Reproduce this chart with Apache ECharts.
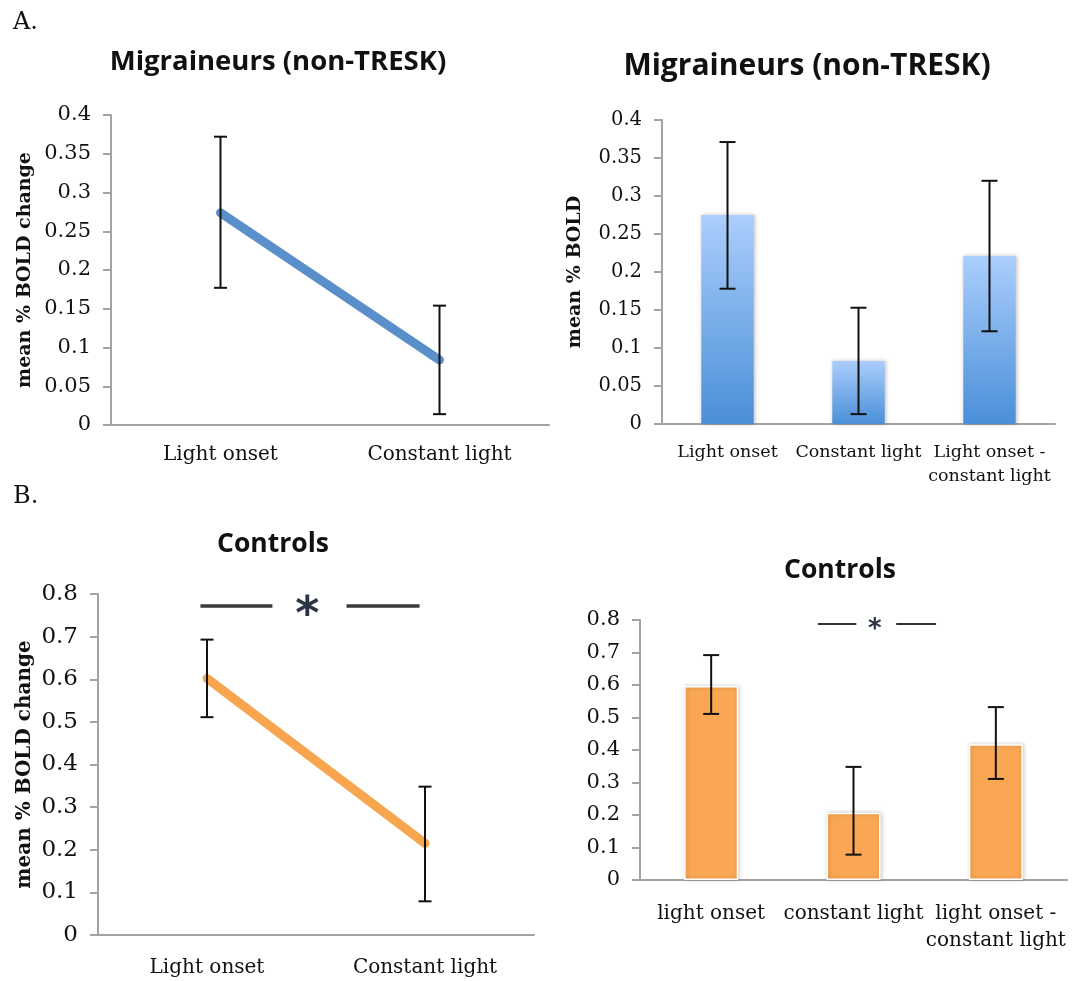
<!DOCTYPE html>
<html>
<head>
<meta charset="utf-8">
<title>mean % BOLD change</title>
<script src="https://cdn.jsdelivr.net/npm/echarts@6/dist/echarts.min.js"></script>
<style>
  html, body { margin: 0; padding: 0; background: #fff; }
  #chart { width: 1076px; height: 981px; }
</style>
</head>
<body>
<div id="chart"></div>
<script>
// A. migraineurs (non-TRESK)
const lineCatsA = ['Light onset', 'Constant light'];
const lineMeanA = [0.274, 0.084];
const lineLowA = [0.177, 0.014];
const lineHighA = [0.372, 0.154];

const barCatsA = ['Light onset', 'Constant light', 'Light onset -\nconstant light'];
const barMeanA = [0.275, 0.083, 0.221];
const barLowA = [0.178, 0.013, 0.122];
const barHighA = [0.371, 0.153, 0.320];

// B. controls
const lineCatsB = ['Light onset', 'Constant light'];
const lineMeanB = [0.602, 0.215];
const lineLowB = [0.511, 0.079];
const lineHighB = [0.693, 0.348];

const barCatsB = ['light onset', 'constant light', 'light onset -\nconstant light'];
const barMeanB = [0.597, 0.207, 0.418];
const barLowB = [0.511, 0.078, 0.311];
const barHighB = [0.692, 0.348, 0.532];

// significance markers: [category, value]
const sigLineB = [0, 0.772];
const sigBarB = [1, 0.788];

const SERIF = '"DejaVu Serif", serif';
const SANS = '"Open Sans", "Noto Sans", sans-serif';
const AXIS_GREY = '#a3a3a3';

const myChart = echarts.init(document.getElementById('chart'));

function errData(low, high) {
  return low.map((l, i) => [i, l, high[i]]);
}

// error bar drawn through the axis scales
function errorBar(cap) {
  return function (params, api) {
    const x = api.value(0);
    const lo = api.coord([x, api.value(1)]);
    const hi = api.coord([x, api.value(2)]);
    const st = { stroke: '#111', lineWidth: 2 };
    return {
      type: 'group',
      children: [
        { type: 'line', shape: { x1: lo[0], y1: lo[1], x2: hi[0], y2: hi[1] }, style: st },
        { type: 'line', shape: { x1: hi[0] - cap / 2, y1: hi[1], x2: hi[0] + cap / 2, y2: hi[1] }, style: st },
        { type: 'line', shape: { x1: lo[0] - cap / 2, y1: lo[1], x2: lo[0] + cap / 2, y2: lo[1] }, style: st }
      ]
    };
  };
}

// "—— * ——" bracket, offsets in category widths
function sigMark(segs, star, width, color, fontSize) {
  return function (params, api) {
    const c = api.coord([api.value(0), api.value(1)]);
    const w = api.size([1, 0])[0];
    const st = { stroke: color, lineWidth: width };
    const kids = segs.map(s => ({
      type: 'line',
      shape: { x1: c[0] + s[0] * w, y1: c[1], x2: c[0] + s[1] * w, y2: c[1] },
      style: st
    }));
    kids.push({
      type: 'text',
      style: {
        text: '*', x: c[0] + star * w, y: c[1] + fontSize * 0.24,
        fill: '#2b3442', font: 'bold ' + fontSize + 'px "DejaVu Sans", sans-serif',
        align: 'center', verticalAlign: 'middle'
      }
    });
    return { type: 'group', children: kids };
  };
}

function xAxisOf(gridIndex, data, fontSize, margin, lineHeight) {
  return {
    type: 'category', gridIndex: gridIndex, data: data,
    axisLine: { lineStyle: { color: AXIS_GREY, width: 2 } },
    axisTick: { length: 8, lineStyle: { color: AXIS_GREY, width: 2 } },
    axisLabel: { color: '#111', fontFamily: SERIF, fontSize: fontSize, margin: margin, lineHeight: lineHeight, interval: 0 },
    splitLine: { show: false }
  };
}

function yAxisOf(gridIndex, max, interval, fontSize, name, nameGap, nameSize) {
  return {
    type: 'value', gridIndex: gridIndex, min: 0, max: max, interval: interval,
    name: name, nameLocation: 'middle', nameGap: nameGap,
    nameTextStyle: { color: '#111', fontFamily: SERIF, fontWeight: 'bold', fontSize: nameSize },
    axisLine: { show: true, lineStyle: { color: AXIS_GREY, width: 2 } },
    axisTick: { show: true, length: 8, lineStyle: { color: AXIS_GREY, width: 2 } },
    axisLabel: { color: '#111', fontFamily: SERIF, fontSize: fontSize, margin: 20 },
    splitLine: { show: false }
  };
}

myChart.setOption({
  animation: false,
  backgroundColor: '#fff',
  title: [
    { text: 'A.', left: 8, top: 6, textStyle: { fontFamily: SERIF, fontWeight: 'normal', fontSize: 24, color: '#111' } },
    { text: 'B.', left: 8, top: 480, textStyle: { fontFamily: SERIF, fontWeight: 'normal', fontSize: 24, color: '#111' } },
    { text: 'Migraineurs (non-TRESK)', left: 273, top: 43, textAlign: 'center', textStyle: { fontFamily: SANS, fontWeight: 'bold', fontSize: 27.5, color: '#111' } },
    { text: 'Migraineurs (non-TRESK)', left: 802, top: 46, textAlign: 'center', textStyle: { fontFamily: SANS, fontWeight: 'bold', fontSize: 30, color: '#111' } },
    { text: 'Controls', left: 268, top: 526, textAlign: 'center', textStyle: { fontFamily: SANS, fontWeight: 'bold', fontSize: 26.5, color: '#111' } },
    { text: 'Controls', left: 835, top: 552, textAlign: 'center', textStyle: { fontFamily: SANS, fontWeight: 'bold', fontSize: 26.5, color: '#111' } }
  ],
  grid: [
    { left: 111, top: 115, width: 438, height: 310 },
    { left: 662, top: 120, width: 393, height: 304 },
    { left: 98, top: 594, width: 436, height: 343 },
    { left: 640, top: 620, width: 427, height: 260 }
  ],
  xAxis: [
    xAxisOf(0, lineCatsA, 20, 18, 24),
    xAxisOf(1, barCatsA, 17.5, 16, 24),
    xAxisOf(2, lineCatsB, 20, 20, 26),
    xAxisOf(3, barCatsB, 20, 20, 27)
  ],
  yAxis: [
    yAxisOf(0, 0.4, 0.05, 21, 'mean % BOLD change', 76, 19),
    yAxisOf(1, 0.4, 0.05, 19.5, 'mean % BOLD', 77, 19),
    yAxisOf(2, 0.8, 0.1, 23, 'mean % BOLD change', 63, 20),
    yAxisOf(3, 0.8, 0.1, 21, '', 0, 12)
  ],
  series: [
    {
      type: 'line', xAxisIndex: 0, yAxisIndex: 0, data: lineMeanA, symbol: 'none',
      lineStyle: { color: '#5b8fca', width: 9, cap: 'round' }, z: 3
    },
    {
      type: 'custom', xAxisIndex: 0, yAxisIndex: 0, data: errData(lineLowA, lineHighA),
      renderItem: errorBar(13), z: 4
    },
    {
      type: 'bar', xAxisIndex: 1, yAxisIndex: 1, data: barMeanA, barWidth: '40%',
      itemStyle: {
        color: new echarts.graphic.LinearGradient(0, 0, 0, 1, [
          { offset: 0, color: '#abcefd' },
          { offset: 1, color: '#4a8fd8' }
        ]),
        shadowBlur: 4, shadowColor: 'rgba(0,0,0,0.25)', shadowOffsetX: 1
      }
    },
    {
      type: 'custom', xAxisIndex: 1, yAxisIndex: 1, data: errData(barLowA, barHighA),
      renderItem: errorBar(16), z: 4
    },
    {
      type: 'line', xAxisIndex: 2, yAxisIndex: 2, data: lineMeanB, symbol: 'none',
      lineStyle: { color: '#f8a54f', width: 9, cap: 'round' }, z: 3
    },
    {
      type: 'custom', xAxisIndex: 2, yAxisIndex: 2, data: errData(lineLowB, lineHighB),
      renderItem: errorBar(13), z: 4
    },
    {
      type: 'custom', xAxisIndex: 2, yAxisIndex: 2, data: [sigLineB],
      renderItem: sigMark([[-0.03, 0.30], [0.64, 0.975]], 0.46, 3.5, '#3a3a3a', 46), z: 4
    },
    {
      type: 'bar', xAxisIndex: 3, yAxisIndex: 3, data: barMeanB, barWidth: '38%',
      itemStyle: {
        color: '#f9a753', borderColor: '#fff', borderWidth: 1.5,
        shadowBlur: 4, shadowColor: 'rgba(0,0,0,0.2)', shadowOffsetX: 1
      }
    },
    {
      type: 'custom', xAxisIndex: 3, yAxisIndex: 3, data: errData(barLowB, barHighB),
      renderItem: errorBar(16), z: 4
    },
    {
      type: 'custom', xAxisIndex: 3, yAxisIndex: 3, data: [sigBarB],
      renderItem: sigMark([[-0.25, 0.02], [0.30, 0.58]], 0.15, 2, '#333', 26), z: 4
    }
  ]
});
</script>
</body>
</html>
